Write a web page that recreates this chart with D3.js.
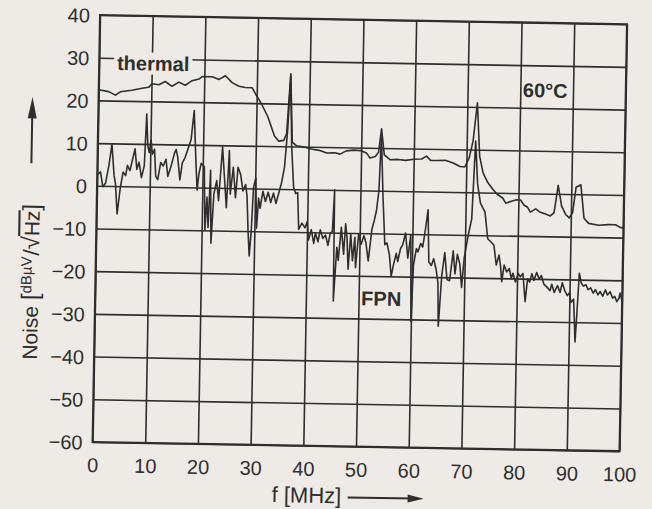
<!DOCTYPE html>
<html>
<head>
<meta charset="utf-8">
<script src="https://cdn.jsdelivr.net/npm/d3@7.9.0/dist/d3.min.js"></script>
<style>
  html, body { margin: 0; padding: 0; background: #eeebe6; }
  svg { display: block; }
  text { font-family: "Liberation Sans", Arial, Helvetica, sans-serif; fill: #2e2e2e; }
</style>
</head>
<body>
<svg id="chart" width="652" height="509"></svg>
<script>
// frequency ticks (MHz) and noise ticks (dB)
const freqTicks = [0, 10, 20, 30, 40, 50, 60, 70, 80, 90, 100];
const noiseTicks = [-60, -50, -40, -30, -20, -10, 0, 10, 20, 30, 40];

// thermal noise trace
const thermalFreq = [0, 1.9, 3.2, 4.1, 6.3, 8.5, 9.5, 10.1, 11.4, 12.6, 13.9, 15.2, 16.4, 17.7, 19, 19.6,
  21.5, 22.8, 24, 25.3, 26.6, 27.8, 29.1, 30, 31, 32.2, 33.5, 34.3, 35.3, 35.8, 36.4, 36.9, 37.7, 39,
  40.5, 42, 43.5, 45, 46, 47.2, 48.5, 50, 51, 51.7, 52.7, 53.3, 53.8, 54.4, 55.5, 57, 58.5, 60, 61.5,
  62.4, 63.2, 64.5, 66, 67.5, 68.8, 69.7, 70.5, 71.2, 71.9, 72.5, 73.2, 74.1, 75.1, 76, 77, 77.6, 78.5,
  79.5, 80.4, 81.1, 81.7, 82.3, 83.3, 84.2, 85.2, 86.1, 86.8, 87.5, 88.2, 89, 89.7, 90.3, 90.9, 91.8,
  92.5, 93.4, 95.3, 97.2, 98.5, 99.4, 100];
const thermalNoise = [22.5, 22.1, 21.3, 22.1, 22.5, 23.1, 23.3, 24.1, 23.9, 24.7, 23.6, 24.6, 23.9, 25, 25.4, 26,
  26, 25.4, 26.3, 24.7, 23.9, 23.6, 23.6, 21.7, 19.7, 16.8, 12.4, 11.2, 11.4, 13, 27, 11, 10.2, 10,
  9.5, 9.2, 8.6, 8.7, 8.4, 9.2, 9.4, 9.3, 8.8, 7.6, 8, 9, 14.5, 8.4, 7.3, 7.4, 7.2, 7.5, 7.6,
  8.3, 7.3, 7.3, 7.4, 6.8, 6, 5.9, 8, 12, 21, 8.5, 4.6, 2.4, 0.8, -0.4, -1.2, -2.4, -2,
  -1.6, -1.6, -2.8, -3.2, -4.4, -3.6, -4.4, -4.8, -5.2, -4.4, 2, -2.8, -4.8, -5.6, -4.4, 1.6, 2.2,
  -5.6, -6.8, -7.2, -7, -7, -7.6, -7.8];

// fixed pattern noise trace
const fpnFreq = [0, 0.6, 1.1, 1.6, 2.2, 2.7, 3.2, 3.5, 3.9, 4.4, 4.9, 5.4, 5.7, 6.2, 6.6, 7.1, 7.5, 7.9,
  8.4, 8.9, 9.2, 9.5, 9.8, 10.1, 10.4, 10.8, 11.1, 11.5, 12, 12.5, 13, 13.4, 13.9, 14.6, 14.9, 15.2,
  15.7, 16.1, 16.6, 17.1, 17.7, 18.2, 18.7, 19, 19.3, 19.7, 20.3, 20.6, 20.9, 21.2, 21.5, 21.8, 22.2,
  22.7, 23.1, 23.7, 24.2, 24.6, 25, 25.3, 25.8, 26.3, 26.7, 27.2, 27.7, 28.2, 28.5, 28.8, 29.1, 29.4,
  29.7, 30.1, 30.4, 30.7, 31, 31.5, 32, 32.5, 33, 33.5, 34, 34.5, 35, 35.5, 36, 36.4, 36.8, 37.3,
  37.7, 38.1, 38.4, 39, 39.6, 40, 40.3, 40.8, 41.3, 41.6, 42.1, 42.5, 43, 43.5, 44, 44.4, 44.8, 45.1,
  45.2, 45.7, 46, 46.5, 47, 47.3, 47.6, 47.9, 48.3, 48.7, 49.1, 49.3, 49.8, 50.3, 50.8, 51.2, 51.7,
  52.3, 52.7, 53.1, 53.5, 53.8, 54.3, 54.8, 55.2, 55.7, 56.1, 56.5, 57, 57.3, 57.8, 58.2, 58.7, 59.2,
  59.7, 60, 60.3, 60.8, 61.1, 61.6, 62, 62.4, 62.9, 63.2, 63.7, 64.1, 64.6, 65, 65.2, 65.7, 66.2,
  66.7, 67.2, 67.8, 68.2, 68.6, 69.1, 69.5, 69.9, 70.6, 71.2, 71.7, 72.2, 72.8, 73.7, 74.3, 74.9,
  75.5, 76, 76.5, 76.8, 77.1, 77.5, 78, 78.5, 78.9, 79.2, 79.7, 80.2, 80.6, 81.1, 81.6, 82, 82.4,
  82.8, 83.2, 83.7, 84.2, 84.6, 85.1, 85.7, 86.3, 86.6, 87.1, 87.7, 88.2, 88.6, 89.1, 89.6, 90, 90.3,
  90.8, 91.2, 91.5, 91.8, 92.2, 92.6, 93.1, 93.5, 94, 94.5, 94.9, 95.4, 95.8, 96.3, 96.8, 97.2, 97.7,
  98.2, 98.6, 99, 99.4, 99.6, 100];
const fpnNoise = [2.5, 3.3, -0.2, 0.6, 4.9, 9.8, 2.5, 0.5, -6.5, -0.6, 3.3, 2.5, 4.9, 3.7, 6, 8.8, 4, 5.7,
  2.1, 4.9, 17, 9.6, 8, 11, 7.6, 8.8, 2.5, 1.7, 5.7, 4.9, 6.5, 2.5, 4.5, 8, 8.8, 7.2,
  1.7, 5.7, 6.9, 8.8, 11.2, 18, 5.7, -0.6, 3.3, 5.7, 4.9, -10, -2.2, -9.3, 4.1, -13, -1.4,
  1.7, -3, 9.6, 1.7, -4.6, 8.8, -1.4, 4.9, -2.2, 4.9, 3.3, -0.6, 0.9, -1.8, -10, -15.8, -10,
  0.2, 2.5, -9.3, -2.2, -4.6, -0.6, -3, -0.8, -3.2, -1, -3.4, -1, 1.5, 5, 14, 26.5, 10, 0.5,
  -1, -0.8, -9.4, -7.9, -9, -7.5, -11.8, -9.4, -12.6, -10.2, -12.2, -9.4, -11.4, -10.6, -13, -10.2, -9.8, 0,
  -26, -13.4, -16.5, -8.7, -15, -7.9, -11, -18.5, -10.2, -16.5, -11, -18.1, -10.2, -12.6, -10.6, -12.2, -16.5,
  -9, -7.1, -4.7, 0, 13, -1.6, -12.6, -12.2, -15, -20, -17.3, -14.6, -16.5, -13.4, -12.6, -9.8, -15.7,
  -10.2, -30.5, -17.3, -13.4, -14.2, -12.2, -13, -9.4, -4.3, -16.5, -17.3, -15.7, -18.1, -21.3, -31.5, -19.7, -14.2,
  -20.5, -20.8, -13.8, -19.2, -14.6, -16.9, -22.3, -15.4, -10, -6.2, 12, 2, -2.5, -4.6, -10.8, -11.5,
  -12.3, -16.9, -14.6, -16.9, -20.8, -16.9, -18.5, -17.7, -20, -18.8, -20.8, -18.8, -19.6, -18.8, -25.4, -20, -20.8,
  -18.8, -20.4, -18.5, -20, -19.2, -21.2, -21.9, -22.7, -21.2, -23.1, -21.5, -23.1, -20.8, -22.7, -23.8, -23.1, -25.4,
  -24.6, -34.6, -26.9, -18.5, -20.8, -21.5, -21.2, -22.3, -21.9, -23.1, -22.3, -23.5, -22.7, -23.8, -22.3, -23.5, -22.7,
  -24.2, -23.8, -25, -24.2, -23, -25];

const margin = { left: 100, top: 15 };
const width = 527;
const height = 427;
const ink = "#2e2e2e";
const paper = "#eeebe6";

const svg = d3.select("#chart");
// the scan is tilted about one degree clockwise
const g = svg.append("g")
  .attr("transform", `translate(${margin.left},${margin.top}) rotate(1)`);

const x = d3.scaleLinear().domain([0, 100]).range([0, width]);
const y = d3.scaleLinear().domain([-60, 40]).range([height, 0]);

const xAxis = g.append("g")
  .attr("transform", `translate(0,${height})`)
  .call(d3.axisBottom(x).tickValues(freqTicks).tickSizeInner(-height).tickSizeOuter(0).tickPadding(16));
const yAxis = g.append("g")
  .call(d3.axisLeft(y).tickValues(noiseTicks).tickSizeInner(-width).tickSizeOuter(0).tickPadding(10)
    .tickFormat((d) => String(d).replace("-", "\u2212")));

[xAxis, yAxis].forEach((axis) => {
  axis.select(".domain").remove();
  axis.selectAll(".tick line").attr("stroke", ink).attr("stroke-width", 1.6);
  axis.selectAll(".tick text")
    .attr("fill", ink)
    .style("font-size", "20px")
    .style("font-family", '"Liberation Sans", Arial, sans-serif');
});
yAxis.selectAll(".tick text").attr("dy", "0.36em");
xAxis.selectAll(".tick text").attr("dy", "0.71em");

g.append("rect")
  .attr("width", width)
  .attr("height", height)
  .attr("fill", "none")
  .attr("stroke", ink)
  .attr("stroke-width", 2);

const line = d3.line()
  .x((d) => x(d[0]))
  .y((d) => y(d[1]));

const thermal = thermalFreq.map((f, i) => [f, thermalNoise[i]]);
const fpn = fpnFreq.map((f, i) => [f, fpnNoise[i]]);

[thermal, fpn].forEach((series) => {
  g.append("path")
    .datum(series)
    .attr("d", line)
    .attr("fill", "none")
    .attr("stroke", ink)
    .attr("stroke-width", 1.6)
    .attr("stroke-linejoin", "round");
});

// curve labels
function label(text, fx, fy, bg) {
  const t = g.append("text")
    .attr("x", x(fx))
    .attr("y", y(fy))
    .style("font-size", "20px")
    .style("font-weight", "bold")
    .text(text);
  if (bg) {
    const b = t.node().getBBox();
    g.insert("rect", () => t.node())
      .attr("x", b.x - 3)
      .attr("y", b.y)
      .attr("width", b.width + 6)
      .attr("height", b.height)
      .attr("fill", paper);
  }
}
label("thermal", 3.4, 27.2, true);
label("60°C", 80.5, 22.5, false);
label("FPN", 50.5, -26.9, false);

// x axis title
g.append("text")
  .attr("x", 180)
  .attr("y", height + 57)
  .style("font-size", "22px")
  .text("f [MHz]");
g.append("line")
  .attr("x1", 256).attr("x2", 322)
  .attr("y1", height + 51).attr("y2", height + 51)
  .attr("stroke", ink).attr("stroke-width", 2);
g.append("path")
  .attr("d", `M332,${height + 51} L316,${height + 47} L316,${height + 55} Z`)
  .attr("fill", ink);

// y axis title
const yt = g.append("text")
  .attr("transform", `translate(-57,${y(-41)}) rotate(-90)`)
  .style("font-size", "21px");
yt.append("tspan").text("Noise ");
yt.append("tspan").style("font-size", "24px").text("[");
yt.append("tspan").attr("dy", -7).style("font-size", "15px").text("dBµV");
yt.append("tspan").attr("dy", 7).attr("dx", 1).style("font-size", "22px").text("/");
yt.append("tspan").style("font-size", "24px").text("\u221A");
yt.append("tspan").style("text-decoration", "overline").style("font-size", "21px").text("Hz");
yt.append("tspan").style("font-size", "24px").text("]");

g.append("line")
  .attr("x1", -66).attr("x2", -66)
  .attr("y1", y(5)).attr("y2", y(16))
  .attr("stroke", ink).attr("stroke-width", 2);
g.append("path")
  .attr("d", `M-66,${y(20.5)} L-70.5,${y(15.5)} L-61.5,${y(15.5)} Z`)
  .attr("fill", ink);
</script>
</body>
</html>
